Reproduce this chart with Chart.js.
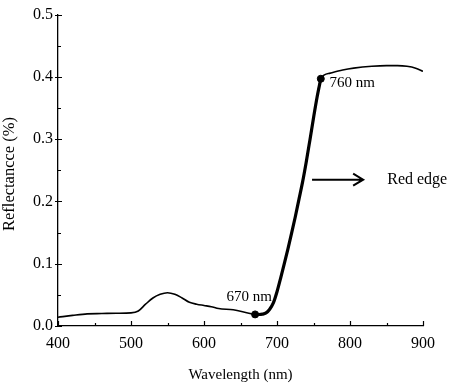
<!DOCTYPE html>
<html>
<head>
<meta charset="utf-8">
<script src="https://cdn.jsdelivr.net/npm/chart.js@4/dist/chart.umd.min.js"></script>
<style>
  html, body { margin: 0; padding: 0; background: #fff; }
  #wrap { width: 454px; height: 387px; }
</style>
</head>
<body>
<div id="wrap"><canvas id="chart"></canvas></div>
<script>
// spectrum (wavelength in nm, reflectance)
const wavelengths = [
  400, 420, 440, 460, 480, 500, 510, 520, 530, 540, 550, 560, 570, 580, 590,
  600, 610, 620, 640, 660, 670, 675, 680, 685, 690, 695, 700, 705, 710, 715,
  720, 725, 730, 735, 740, 745, 750, 755, 760, 773, 790, 805, 830, 850, 865,
  878, 890, 900,
];
const reflectance = [
  0.014, 0.017, 0.0195, 0.020, 0.0205, 0.021, 0.024, 0.035, 0.045, 0.051, 0.0535, 0.051, 0.045, 0.038, 0.035,
  0.033, 0.031, 0.028, 0.026, 0.021, 0.0186, 0.0185, 0.019, 0.021, 0.027, 0.037, 0.055, 0.077, 0.100, 0.124,
  0.149, 0.175, 0.203, 0.231, 0.263, 0.298, 0.334, 0.368, 0.397, 0.406, 0.411, 0.414, 0.417, 0.418, 0.418,
  0.417, 0.414, 0.409,
];
// red edge range and its marked end points
const redEdgeStart = 670;
const redEdgeEnd = 760;
const markLabels = ['670 nm', '760 nm'];

const xTicks = [400, 500, 600, 700, 800, 900];
const yTicks = [0, 0.1, 0.2, 0.3, 0.4, 0.5];

const FONT = 'Liberation Serif, Times New Roman, serif';

const fullLine = wavelengths.map((x, i) => ({ x, y: reflectance[i] }));
const edgeLine = fullLine.filter((p) => p.x >= redEdgeStart && p.x <= redEdgeEnd);
const marks = fullLine.filter((p) => p.x === redEdgeStart || p.x === redEdgeEnd);

// inward tick marks, plus the notes and arrow of the figure
const decor = {
  id: 'decor',
  afterDraw(chart) {
    const { ctx, scales: { x, y } } = chart;
    ctx.save();
    ctx.strokeStyle = '#000';
    ctx.lineWidth = 1.2;
    ctx.beginPath();
    for (let v = 400; v <= 900; v += 50) {
      const px = Math.round(x.getPixelForValue(v)) + 0.5;
      const len = v % 100 === 0 ? 5 : 3;
      ctx.moveTo(px, y.bottom);
      ctx.lineTo(px, y.bottom - len);
    }
    for (let i = 0; i <= 10; i += 1) {
      const py = Math.round(y.getPixelForValue(i * 0.05)) + 0.5;
      if (i % 2 === 0) {
        ctx.moveTo(x.left - 3, py);
        ctx.lineTo(x.left + 4, py);
      } else {
        ctx.moveTo(x.left, py);
        ctx.lineTo(x.left + 3, py);
      }
    }
    ctx.stroke();

    ctx.fillStyle = '#000';
    ctx.font = `15px ${FONT}`;
    ctx.textBaseline = 'middle';
    ctx.textAlign = 'center';
    ctx.fillText(markLabels[0], x.getPixelForValue(662), y.getPixelForValue(0.046));
    ctx.textAlign = 'left';
    ctx.fillText(markLabels[1], x.getPixelForValue(772), y.getPixelForValue(0.39));

    // arrow pointing at the note
    const ay = y.getPixelForValue(0.235);
    const ax0 = x.getPixelForValue(748);
    const ax1 = x.getPixelForValue(818);
    ctx.lineWidth = 2;
    ctx.beginPath();
    ctx.moveTo(ax0, ay);
    ctx.lineTo(ax1, ay);
    ctx.moveTo(ax1 - 10, ay - 6);
    ctx.lineTo(ax1, ay);
    ctx.lineTo(ax1 - 10, ay + 6);
    ctx.stroke();
    ctx.font = `16px ${FONT}`;
    ctx.fillText('Red edge', x.getPixelForValue(851), ay);

    // y axis title
    ctx.translate(10, 174);
    ctx.rotate(-Math.PI / 2);
    ctx.textAlign = 'center';
    ctx.font = `16.5px ${FONT}`;
    ctx.fillText('Reflectancce (%)', 0, 0);
    ctx.restore();
  },
};

new Chart(document.getElementById('chart'), {
  type: 'scatter',
  data: {
    datasets: [
      {
        data: fullLine,
        showLine: true,
        borderColor: '#000',
        borderWidth: 1.6,
        pointRadius: 0,
        cubicInterpolationMode: 'monotone',
      },
      {
        data: edgeLine,
        showLine: true,
        borderColor: '#000',
        borderWidth: 3.2,
        pointRadius: 0,
        cubicInterpolationMode: 'monotone',
      },
      {
        data: marks,
        showLine: false,
        pointRadius: 3.5,
        pointBackgroundColor: '#000',
        pointBorderColor: '#000',
      },
    ],
  },
  options: {
    responsive: true,
    maintainAspectRatio: false,
    animation: false,
    layout: { padding: { left: 0, right: 31, top: 11, bottom: 0 } },
    plugins: {
      legend: { display: false },
      tooltip: { enabled: false },
    },
    scales: {
      x: {
        type: 'linear',
        min: 400,
        max: 900,
        afterFit: (scale) => { scale.height = 61; },
        afterBuildTicks: (scale) => { scale.ticks = xTicks.map((value) => ({ value })); },
        grid: { display: false, drawTicks: false },
        border: { display: true, color: '#000', width: 1.3 },
        ticks: {
          padding: 8,
          color: '#000',
          font: { family: FONT, size: 16 },
        },
        title: {
          display: true,
          text: 'Wavelength (nm)',
          color: '#000',
          font: { family: FONT, size: 15 },
          padding: { top: 0, bottom: 3 },
        },
      },
      y: {
        min: 0,
        max: 0.5,
        afterFit: (scale) => { scale.width = 58; },
        afterBuildTicks: (scale) => { scale.ticks = yTicks.map((value) => ({ value })); },
        grid: { display: false, drawTicks: false },
        border: { display: true, color: '#000', width: 1.3 },
        ticks: {
          padding: 5,
          color: '#000',
          font: { family: FONT, size: 16 },
          callback: (v) => v.toFixed(1),
        },
      },
    },
  },
  plugins: [decor],
});
</script>
</body>
</html>
